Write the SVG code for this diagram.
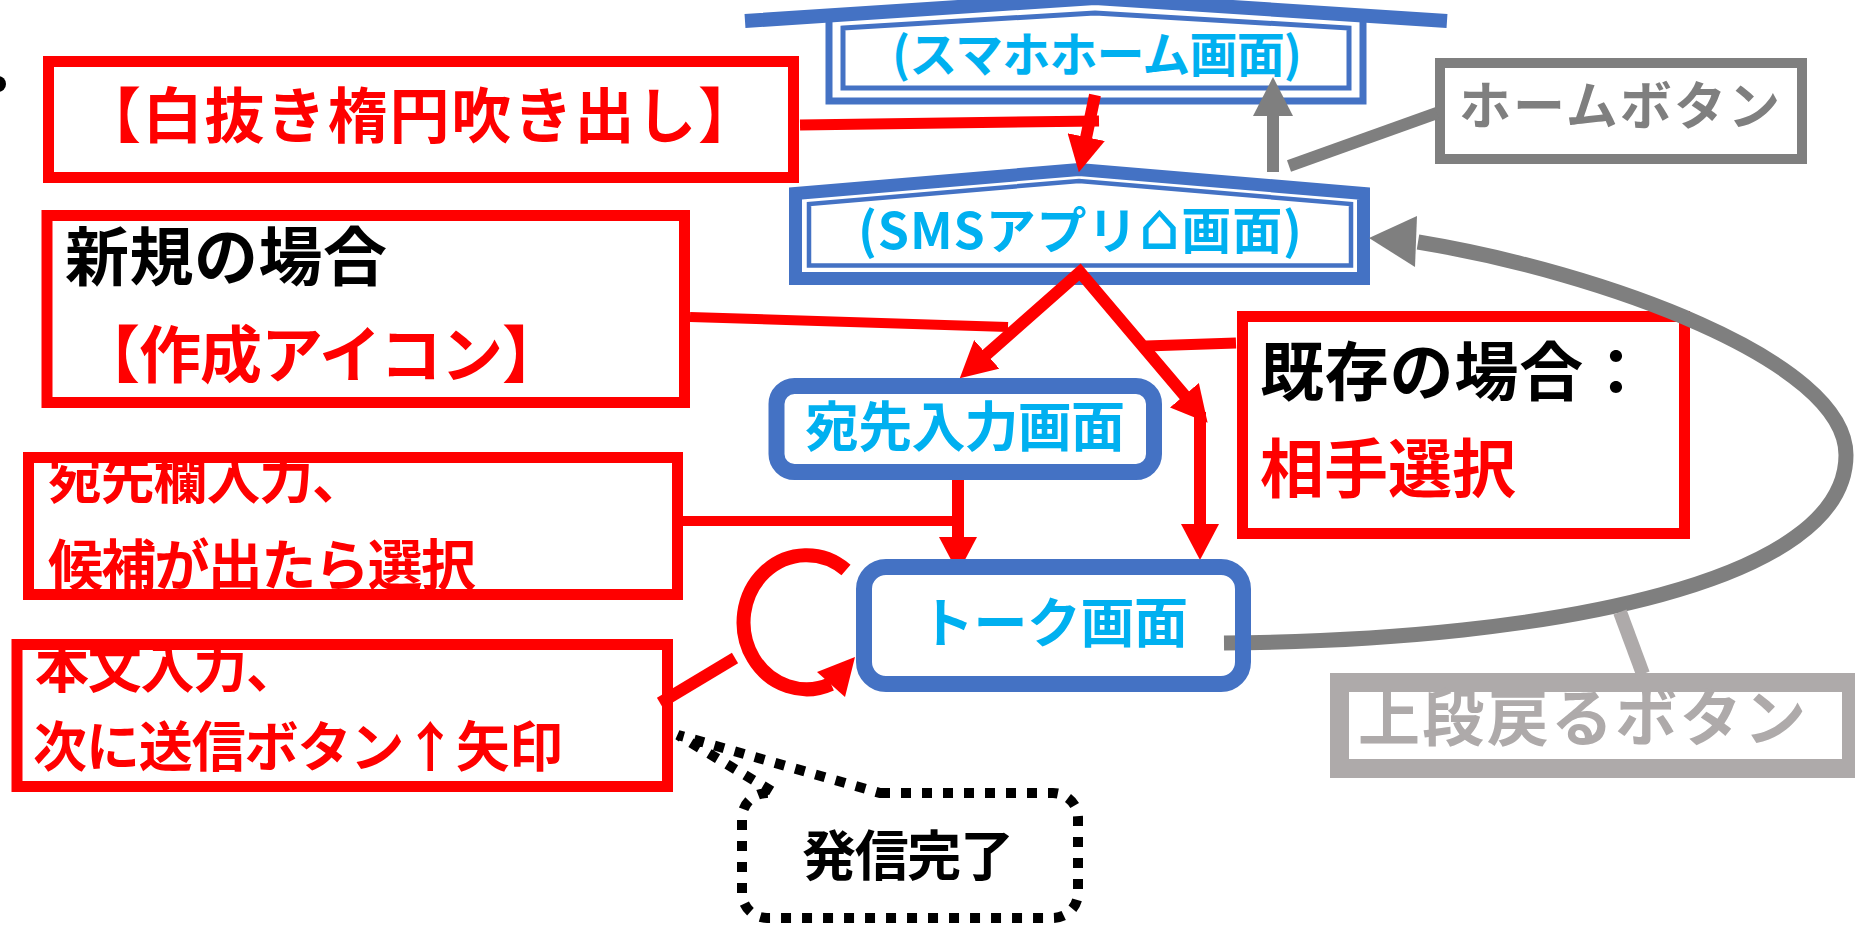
<svg xmlns="http://www.w3.org/2000/svg" width="1855" height="927" viewBox="0 0 1855 927">
<style>
text{font-family:"Noto Sans CJK JP","DejaVu Sans",sans-serif;font-weight:bold}
.cy{fill:#00B0F0}
.rd{fill:#FF0000}
.bk{fill:#000000}
.gy{fill:#7F7F7F}
.lg{fill:#AEAAAA}
.rbox{fill:#FFFFFF;stroke:#FF0000;stroke-width:11}
.bl{stroke:#4472C4}
.rl{fill:none;stroke:#FF0000}
</style>
<defs>
<marker id="ra" markerUnits="userSpaceOnUse" viewBox="0 0 36 38" markerWidth="36" markerHeight="38" refX="1" refY="19" orient="auto-start-reverse"><path d="M0,0 L36,19 L0,38 Z" fill="#FF0000"/></marker>
<marker id="ga" markerUnits="userSpaceOnUse" viewBox="0 0 39 40" markerWidth="39" markerHeight="40" refX="1" refY="20" orient="auto"><path d="M0,0 L39,20 L0,40 Z" fill="#7F7F7F"/></marker>
</defs>
<rect width="1855" height="927" fill="#FFFFFF"/>
<circle cx="-2" cy="84" r="8" fill="#000"/>

<g id="home-screen">
<polyline points="745,21 1095,-2 1447,21" fill="none" class="bl" stroke-width="14"/>
<polyline points="829,22 829,101 1363,101 1363,22" fill="none" class="bl" stroke-width="7"/>
<polygon points="843,28 1095,13 1349,28 1349,88 843,88" fill="#FFFFFF" class="bl" stroke-width="5"/>
<text x="892" y="72" font-size="48" class="cy" textLength="410" lengthAdjust="spacing">(スマホホーム画面)</text>
</g>

<g id="sms-app">
<polygon points="795.5,278.5 795.5,193.5 1079,169.5 1363.5,193.5 1363.5,278.5" fill="#FFFFFF" class="bl" stroke-width="13"/>
<polygon points="809,265.5 809,204 1079,181 1351,204 1351,265.5" fill="none" class="bl" stroke-width="4.5"/>
<text x="858" y="249" font-size="50" class="cy" textLength="444" lengthAdjust="spacing">(SMSアプリ<tspan font-size="66" font-weight="normal" font-family="DejaVu Sans">⌂</tspan>画面)</text>
</g>

<g id="white-ellipse-callout">
<rect x="48.5" y="61.5" width="745" height="116" class="rbox"/>
<text x="81" y="138" font-size="60" class="rd" textLength="677" lengthAdjust="spacing">【白抜き楕円吹き出し】</text>
</g>

<g id="new-case">
<rect x="47" y="215.5" width="637.5" height="187" class="rbox"/>
<text x="65" y="280" font-size="64" class="bk" textLength="322" lengthAdjust="spacing">新規の場合</text>
<text x="78" y="378" font-size="62" class="rd" textLength="486" lengthAdjust="spacing">【作成アイコン】</text>
</g>

<g id="existing-case">
<rect x="1242.5" y="316.5" width="442" height="217" class="rbox" stroke-width="13"/>
<text x="1260" y="395" font-size="64" class="bk" textLength="388" lengthAdjust="spacing">既存の場合：</text>
<text x="1260" y="492" font-size="64" class="rd" textLength="256" lengthAdjust="spacing">相手選択</text>
</g>

<g id="dest-input-screen">
<rect x="776.5" y="386" width="377.5" height="86" rx="18" fill="#FFFFFF" class="bl" stroke-width="16"/>
<text x="805" y="447" font-size="54" class="cy" textLength="320" lengthAdjust="spacing">宛先入力画面</text>
</g>

<g id="dest-field-input">
<rect x="28.5" y="457.5" width="649" height="137" class="rbox"/>
<text x="48" y="499" font-size="54" class="rd" textLength="318" lengthAdjust="spacing">宛先欄入力、</text>
<text x="48" y="585" font-size="55" class="rd" textLength="428" lengthAdjust="spacing">候補が出たら選択</text>
</g>

<g id="body-input">
<rect x="17" y="644.5" width="650.5" height="142" class="rbox"/>
<text x="35" y="688" font-size="54" class="rd" textLength="265" lengthAdjust="spacing">本文入力、</text>
<text x="33" y="767" font-size="54" class="rd" textLength="530" lengthAdjust="spacing">次に送信ボタン↑矢印</text>
</g>

<g id="home-button">
<rect x="1440" y="63" width="362" height="96" fill="#FFFFFF" stroke="#7F7F7F" stroke-width="10"/>
<text x="1459" y="125" font-size="52" class="gy" textLength="321" lengthAdjust="spacing">ホームボタン</text>
</g>

<g id="back-button">
<rect x="1339.5" y="682.5" width="512" height="86" fill="#FFFFFF" stroke="#AEAAAA" stroke-width="19"/>
<text x="1358" y="741" font-size="62" class="lg" textLength="448" lengthAdjust="spacing">上段戻るボタン</text>
</g>

<g id="sent-complete">
<path d="M880,793 H1053 A25,25 0 0 1 1078,818 V893 A25,25 0 0 1 1053,918 H767 A25,25 0 0 1 742,893 V818 A25,25 0 0 1 767,793 H775 L678,735 Z" fill="#FFFFFF" stroke="#000" stroke-width="10" stroke-dasharray="10 11"/>
<text x="802" y="876" font-size="54" class="bk" textLength="212" lengthAdjust="spacing">発信完了</text>
</g>

<g id="connectors">
<line x1="800" y1="125" x2="1099" y2="121" class="rl" stroke-width="11"/>
<line x1="690" y1="317" x2="1008" y2="327" class="rl" stroke-width="10"/>
<line x1="1146" y1="346" x2="1236" y2="343" class="rl" stroke-width="11"/>
<line x1="683" y1="521" x2="952" y2="521" class="rl" stroke-width="10"/>
<line x1="660" y1="703" x2="735" y2="658" class="rl" stroke-width="12"/>
<path d="M1095,95 L1086,138" class="rl" stroke-width="12" marker-end="url(#ra)"/>
<path d="M986,355 L1080,272 L1185,396" class="rl" stroke-width="12" stroke-linejoin="miter" marker-start="url(#ra)" marker-end="url(#ra)"/>
<path d="M1200,412 L1200,525" class="rl" stroke-width="12" marker-end="url(#ra)"/>
<path d="M958,480 L958,538" class="rl" stroke-width="12" marker-end="url(#ra)"/>
<path d="M846,570 A63,67 0 1 0 831,684" class="rl" stroke-width="14"/>
<polygon points="817,672 855,657 845,697" fill="#FF0000"/>
<path d="M1273,172 L1273,115" fill="none" stroke="#7F7F7F" stroke-width="12" marker-end="url(#ga)"/>
<line x1="1289" y1="166" x2="1437" y2="113" stroke="#7F7F7F" stroke-width="12"/>
<path d="M1224,643 C1560,640 1846,580 1846,455 C1846,360 1600,272 1418,242" fill="none" stroke="#7F7F7F" stroke-width="15"/>
<polygon points="1417,216 1369,238 1415,267" fill="#7F7F7F"/>
<line x1="1643" y1="674" x2="1620" y2="612" stroke="#AEAAAA" stroke-width="14"/>
</g>

<g id="talk-screen">
<rect x="864" y="567" width="379" height="117" rx="22" fill="none" class="bl" stroke-width="16"/>
<text x="920" y="643" font-size="54" class="cy" textLength="268" lengthAdjust="spacing">トーク画面</text>
</g>
</svg>
